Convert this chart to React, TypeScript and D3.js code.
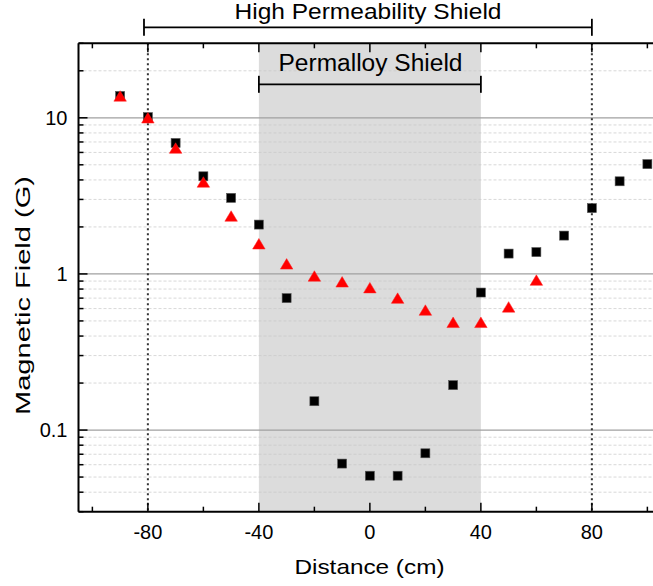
import React from "react";
import * as d3 from "d3";

const distances = [-90, -80, -70, -60, -50, -40, -30, -20, -10, 0, 10, 20, 30, 40, 50, 60, 70, 80, 90, 100];
const highPermField = [13.8, 10.1, 6.9, 4.22, 3.07, 2.07, 0.7, 0.153, 0.061, 0.051, 0.051, 0.071, 0.194, 0.76, 1.35, 1.38, 1.76, 2.64, 3.92, 5.05];
const permalloyDistances = [-90, -80, -70, -60, -50, -40, -30, -20, -10, 0, 10, 20, 30, 40, 50, 60];
const permalloyField = [13.8, 10.0, 6.4, 3.88, 2.35, 1.56, 1.16, 0.97, 0.89, 0.817, 0.70, 0.587, 0.49, 0.49, 0.615, 0.913];
const xMajorTicks = [-80, -40, 0, 40, 80];
const xMinorTicks = [-100, -60, -20, 20, 60, 100];
const yMajorTicks = [0.1, 1, 10];
const yTickLabels = ["0.1", "1", "10"];
const shadeSpan = [-40, 40];
const dottedLines = [-80, 80];
const highBracket = [-81.4, 80];
const permBracket = [-40, 40];

const W = 653;
const H = 586;
const FONT = "'Liberation Sans', Arial, sans-serif";

export default function App() {
  const x = d3.scaleLinear().domain([-105, 105]).range([78.5, 78.5 + 210 * 2.775]);
  const y = d3.scaleLog().domain([0.03, 30]).range([511.7, 43.3]);
  const [x0, x1] = x.range();
  const [yb, yt] = y.range();

  const yMinor: number[] = [];
  [0.01, 0.1, 1, 10].forEach((d) => {
    for (let k = 2; k <= 9; k++) {
      const v = d * k;
      if (v >= 0.03 && v <= 30) yMinor.push(+v.toPrecision(3));
    }
  });

  const tri = (cx: number, cy: number) => {
    const w = 12.5, h = 10.5;
    return `M${cx},${cy - h / 2}L${cx + w / 2},${cy + h / 2}L${cx - w / 2},${cy + h / 2}Z`;
  };

  const bracket = (span: number[], yy: number, key: string) => (
    <g key={key} stroke="#000" strokeWidth={1.8} fill="none">
      <line x1={x(span[0])} x2={x(span[1])} y1={yy} y2={yy} />
      <line x1={x(span[0])} x2={x(span[0])} y1={yy - 8.5} y2={yy + 8.5} />
      <line x1={x(span[1])} x2={x(span[1])} y1={yy - 8.5} y2={yy + 8.5} />
    </g>
  );

  return (
    <svg width={W} height={H} style={{ position: "absolute", left: 0, top: 0, background: "#fff" }} fontFamily={FONT}>
      <defs>
        <clipPath id="plot">
          <rect x={x0} y={yt} width={x1 - x0} height={yb - yt} />
        </clipPath>
      </defs>
      <rect x={0} y={0} width={W} height={H} fill="#fff" />
      <rect x={x(shadeSpan[0])} y={yt} width={x(shadeSpan[1]) - x(shadeSpan[0])} height={yb - yt} fill="#dcdcdc" />
      <g clipPath="url(#plot)">
        {yMinor.map((v) => (
          <line key={"gm" + v} x1={x0} x2={x1} y1={y(v)} y2={y(v)} stroke="#c8c8c8" strokeOpacity={0.7} strokeWidth={1} strokeDasharray="3,2" />
        ))}
        {yMajorTicks.map((v) => (
          <line key={"gM" + v} x1={x0} x2={x1} y1={y(v)} y2={y(v)} stroke="#a0a0a0" strokeWidth={1.2} />
        ))}
        {dottedLines.map((v) => (
          <line key={"dl" + v} x1={x(v)} x2={x(v)} y1={yt} y2={yb} stroke="#333" strokeWidth={2} strokeDasharray="2,3" />
        ))}
      </g>
      <g stroke="#000" strokeWidth={2} fill="none">
        <line x1={x0} x2={x1} y1={yb} y2={yb} />
        <line x1={x0} x2={x1} y1={yt} y2={yt} />
        <line x1={x0} x2={x0} y1={yt} y2={yb} />
        <line x1={x1} x2={x1} y1={yt} y2={yb} />
      </g>
      <g stroke="#000" strokeWidth={1.5}>
        {xMajorTicks.map((v) => (
          <g key={"xt" + v}>
            <line x1={x(v)} x2={x(v)} y1={yb} y2={yb - 9} />
            <line x1={x(v)} x2={x(v)} y1={yt} y2={yt + 9} />
          </g>
        ))}
        {xMinorTicks.map((v) => (
          <g key={"xm" + v}>
            <line x1={x(v)} x2={x(v)} y1={yb} y2={yb - 5} />
            <line x1={x(v)} x2={x(v)} y1={yt} y2={yt + 5} />
          </g>
        ))}
        {yMajorTicks.map((v) => (
          <line key={"yt" + v} x1={x0} x2={x0 + 9} y1={y(v)} y2={y(v)} />
        ))}
        {yMinor.map((v) => (
          <line key={"ym" + v} x1={x0} x2={x0 + 5} y1={y(v)} y2={y(v)} />
        ))}
      </g>
      <g fontSize={20} fill="#000">
        {xMajorTicks.map((v) => (
          <text key={"xl" + v} x={x(v)} y={538.5} textAnchor="middle">
            {v}
          </text>
        ))}
        {yMajorTicks.map((v, i) => (
          <text key={"yl" + v} x={67.5} y={y(v) + 7} textAnchor="end">
            {yTickLabels[i]}
          </text>
        ))}
      </g>
      <g>
        {distances.map((d, i) => (
          <rect key={"sq" + d} x={x(d) - 4.5} y={y(highPermField[i]) - 4.5} width={9} height={9} fill="#000" stroke="#555" strokeWidth={0.6} />
        ))}
        {permalloyDistances.map((d, i) => (
          <path key={"tr" + d} d={tri(x(d), y(permalloyField[i]))} fill="#ff0000" stroke="#ff2020" strokeWidth={0.5} />
        ))}
      </g>
      {bracket(highBracket, 27.3, "hb")}
      {bracket(permBracket, 84.3, "pb")}
      <text x={234.5} y={18.8} fontSize={22.5} textLength={267} lengthAdjust="spacingAndGlyphs" fill="#000">
        High Permeability Shield
      </text>
      <text x={278.5} y={71.3} fontSize={23.5} textLength={184} lengthAdjust="spacingAndGlyphs" fill="#000">
        Permalloy Shield
      </text>
      <text x={294.5} y={573.5} fontSize={21} textLength={150} lengthAdjust="spacingAndGlyphs" fill="#000">
        Distance (cm)
      </text>
      <text
        transform={`translate(29.8, ${295.5}) rotate(-90)`}
        x={0}
        y={0}
        textAnchor="middle"
        fontSize={21}
        textLength={239}
        lengthAdjust="spacingAndGlyphs"
        fill="#000"
      >
        Magnetic Field (G)
      </text>
    </svg>
  );
}
